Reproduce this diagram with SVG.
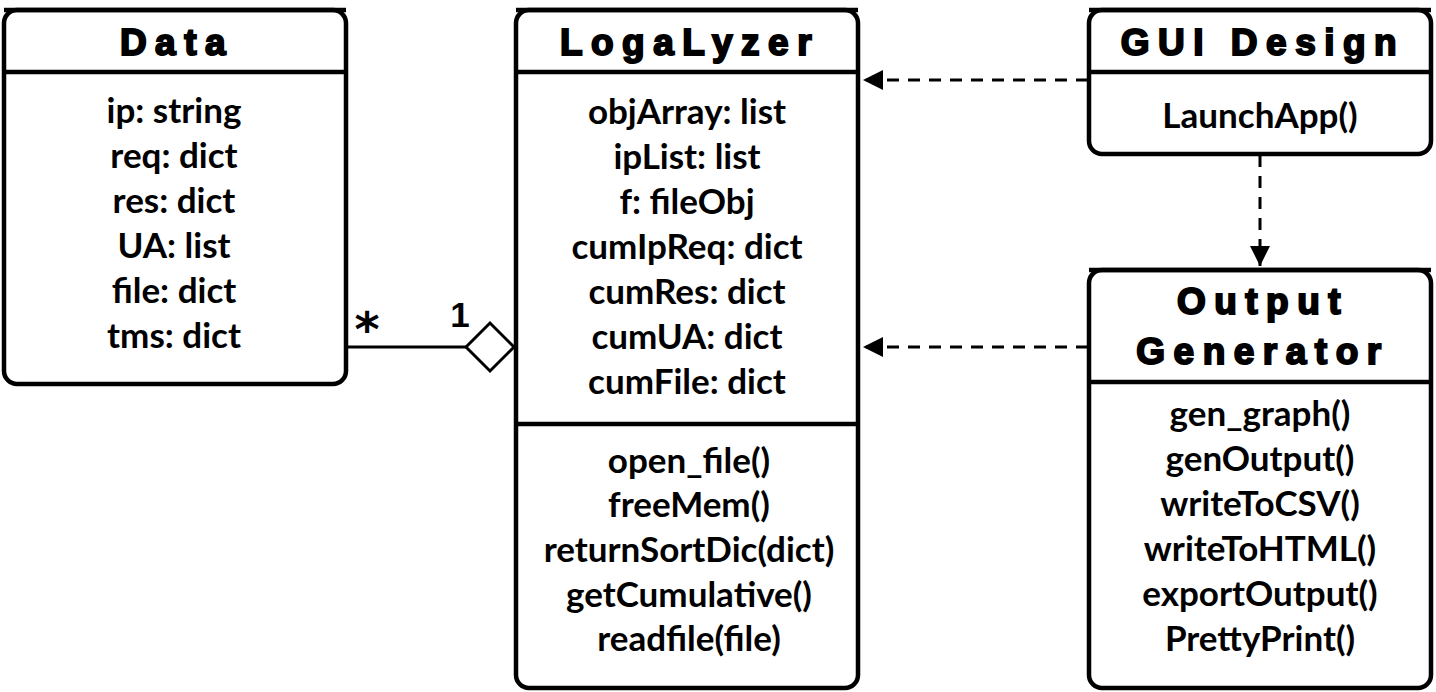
<svg xmlns="http://www.w3.org/2000/svg" width="1436" height="692" viewBox="0 0 1436 692">
<style>
.box{fill:#fff;stroke:#000;stroke-width:4.5}
.sep{stroke:#000;stroke-width:4.5}
.title{font-family:"Liberation Sans",Arial,sans-serif;font-weight:900;font-size:37px;letter-spacing:8.5px;text-anchor:middle;stroke:#000;stroke-width:2}
.t{font-family:Lato,"Open Sans",sans-serif;font-weight:700;font-size:35px;text-anchor:middle;fill:#000}
.dash{fill:none;stroke:#000;stroke-width:3;stroke-dasharray:12 9}
</style>
<defs>
<marker id="arr" viewBox="0 0 20 20" refX="20" refY="10" markerWidth="20" markerHeight="20" markerUnits="userSpaceOnUse" orient="auto">
<path d="M0,0 L20,10 L0,20 Z" fill="#000"/>
</marker>
</defs>
<rect width="1436" height="692" fill="#fff"/>
<g id="connectors">
<line x1="346" y1="347" x2="466" y2="347" stroke="#000" stroke-width="3"/>
<path d="M466,347 L490,323 L514,347 L490,371 Z" fill="#fff" stroke="#000" stroke-width="3"/>
<text x="367" y="346" font-family="DejaVu Sans,sans-serif" font-weight="700" font-size="48" text-anchor="middle">*</text>
<text x="460" y="327" font-family="Liberation Sans,sans-serif" font-weight="700" font-size="35" text-anchor="middle">1</text>
<line class="dash" x1="1088" y1="80" x2="863" y2="80" marker-end="url(#arr)"/>
<line class="dash" x1="1088" y1="347" x2="863" y2="347" marker-end="url(#arr)"/>
<line class="dash" x1="1260" y1="155" x2="1260" y2="266" marker-end="url(#arr)"/>
</g>
<g id="data">
<rect class="box" x="4" y="10" width="342" height="374" rx="13"/>
<line class="sep" x1="4" y1="10" x2="346" y2="10"/>
<path class="sep" d="M4,72 H346"/>
<text class="title" x="177" y="55">Data</text>
<text class="t" x="174" y="123">ip: string</text>
<text class="t" x="174" y="168">req: dict</text>
<text class="t" x="174" y="213">res: dict</text>
<text class="t" x="174" y="258">UA: list</text>
<text class="t" x="174" y="303">file: dict</text>
<text class="t" x="174" y="348">tms: dict</text>
</g>
<g id="logalyzer">
<rect class="box" x="516" y="10" width="342" height="678" rx="13"/>
<line class="sep" x1="516" y1="10" x2="858" y2="10"/>
<path class="sep" d="M516,72 H858"/>
<path class="sep" d="M516,424 H858"/>
<text class="title" x="690" y="55">LogaLyzer</text>
<text class="t" x="687" y="124">objArray: list</text>
<text class="t" x="687" y="169">ipList: list</text>
<text class="t" x="687" y="214">f: fileObj</text>
<text class="t" x="687" y="259">cumIpReq: dict</text>
<text class="t" x="687" y="304">cumRes: dict</text>
<text class="t" x="687" y="349">cumUA: dict</text>
<text class="t" x="687" y="394">cumFile: dict</text>
<text class="t" x="689" y="473">open_file()</text>
<text class="t" x="689" y="517">freeMem()</text>
<text class="t" x="689" y="562">returnSortDic(dict)</text>
<text class="t" x="689" y="607">getCumulative()</text>
<text class="t" x="689" y="651">readfile(file)</text>
</g>
<g id="gui">
<rect class="box" x="1089" y="10" width="342" height="144" rx="13"/>
<line class="sep" x1="1089" y1="10" x2="1431" y2="10"/>
<path class="sep" d="M1089,72 H1431"/>
<text class="title" x="1263" y="55">GUI Design</text>
<text class="t" x="1260" y="128">LaunchApp()</text>
</g>
<g id="output">
<rect class="box" x="1089" y="270" width="342" height="418" rx="13"/>
<line class="sep" x1="1089" y1="270" x2="1431" y2="270"/>
<path class="sep" d="M1089,382 H1431"/>
<text class="title" x="1263" y="314">Output</text>
<text class="title" x="1263" y="364">Generator</text>
<text class="t" x="1260" y="426">gen_graph()</text>
<text class="t" x="1260" y="471">genOutput()</text>
<text class="t" x="1260" y="516">writeToCSV()</text>
<text class="t" x="1260" y="561">writeToHTML()</text>
<text class="t" x="1260" y="606">exportOutput()</text>
<text class="t" x="1260" y="651">PrettyPrint()</text>
</g>
</svg>
